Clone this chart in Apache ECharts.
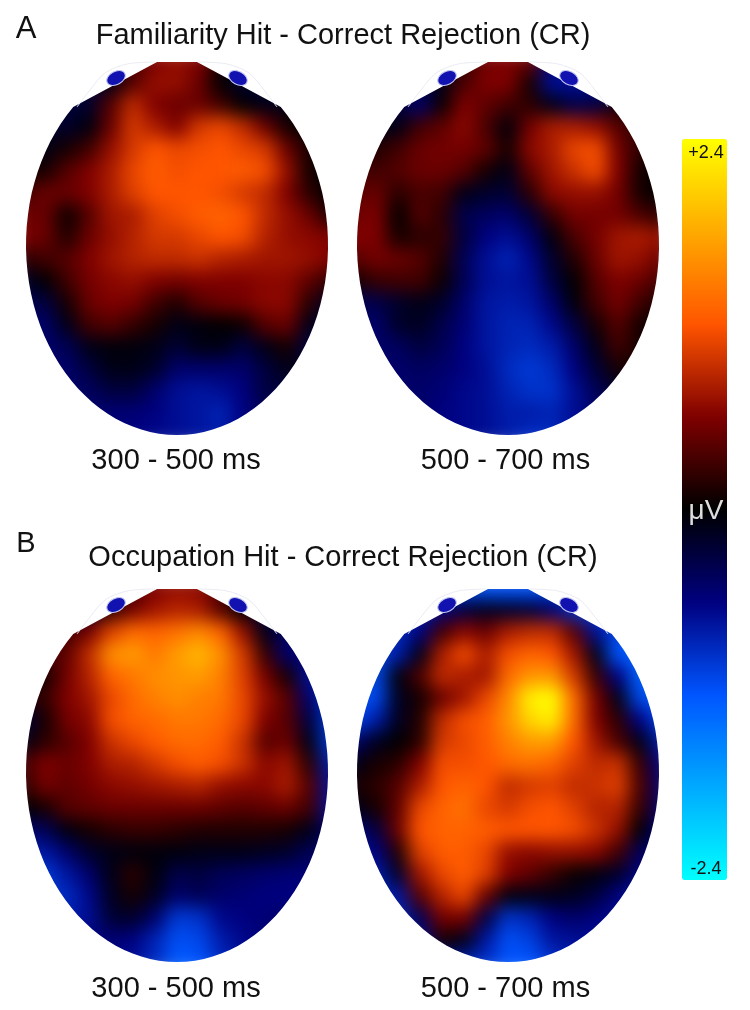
<!DOCTYPE html>
<html><head><meta charset="utf-8">
<style>html,body{margin:0;padding:0;background:#fff}#c{width:750px;height:1010px}</style>
<script src="https://cdn.jsdelivr.net/npm/echarts@6/dist/echarts.min.js"></script>
</head><body><div id="c"></div>
<script>
// Scalp potential in microvolts (rows run front to back).
const familiarity300 = [
[-.3,-.3,-.3,-.3,0,.3,.6,.7,.6,.1,-.2,-.3,-.3,-.3,-.3],
[-.3,-.3,-.3,-.3,-.1,.4,.7,.7,.5,0,-.2,-.3,-.3,-.3,-.3],
[-.3,-.3,-.3,-.2,.4,.9,.6,.5,.5,.3,0,-.1,-.1,-.1,-.1],
[-.2,-.2,-.2,-.05,.5,1.0,.8,.6,1.0,1.1,.9,.5,.1,0,0],
[-.1,-.1,.1,.3,.7,1.0,1.2,1.1,1.15,1.2,1.1,1.0,.5,.1,.1],
[.1,.1,.4,.6,.8,1.1,1.25,1.15,1.2,1.2,1.25,1.15,.7,.1,0],
[.3,.5,.5,.6,.8,1.05,1.2,1.2,1.2,1.15,1.0,.9,.6,.2,0],
[.5,.5,.05,.4,.75,.8,1.05,1.15,1.25,1.3,1.2,.9,.7,.5,.1],
[.6,.5,.15,.5,.7,.85,1.0,1.0,1.1,1.2,1.15,.85,.7,.65,.6],
[.2,.3,.4,.6,.75,.85,.9,.9,.95,.85,.8,.75,.75,.7,.6],
[-.2,0,.3,.55,.65,.7,.6,.55,.6,.6,.6,.65,.65,.45,.2],
[-.4,-.3,.1,.5,.6,.55,.3,.15,.4,.5,.55,.65,.65,.2,-.2],
[-.5,-.5,-.1,.3,.4,.25,.1,-.1,-.05,0,.05,.4,.5,-.1,-.3],
[-.5,-.5,-.4,-.1,-.05,-.05,-.1,-.25,-.1,-.1,-.3,-.1,.1,-.3,-.3],
[-.5,-.5,-.5,-.3,-.1,-.1,-.2,-.5,-.5,-.5,-.5,-.3,-.1,-.2,-.2],
[-.5,-.5,-.5,-.45,-.3,-.3,-.5,-.7,-.75,-.7,-.6,-.3,-.3,-.3,-.3],
[-.5,-.5,-.5,-.5,-.55,-.55,-.6,-.7,-.75,-.85,-.6,-.4,-.4,-.4,-.4],
[-.5,-.5,-.5,-.5,-.55,-.6,-.65,-.7,-.75,-.8,-.6,-.5,-.5,-.5,-.5]];
const familiarity500 = [
[-.3,-.3,-.3,-.3,-.2,.2,.55,.6,.5,-.6,-.7,-.7,-.7,-.7,-.7],
[-.3,-.3,-.3,-.4,-.1,.35,.6,.6,.1,-.7,-.7,-.7,-.7,-.7,-.7],
[-.3,-.3,-.3,-.5,.05,.6,.45,.3,.2,-.1,-.35,-.3,.1,.1,.1],
[-.1,-.1,-.1,.3,.45,.65,.35,-.05,.55,.8,.8,.7,.4,.2,.1],
[.1,.15,.3,.5,.55,.55,.45,.1,.65,.8,1.1,1.15,.55,.2,.1],
[.3,.3,.4,.5,.5,.4,.1,-.1,.45,.75,.95,1.15,.6,.1,0],
[.4,.5,.2,.35,.3,-.1,-.2,-.25,.2,.65,.7,.7,.55,.1,0],
[.5,.6,0,.4,.2,-.35,-.45,-.5,-.25,.25,.55,.55,.55,.35,.2],
[.6,.6,.1,.2,.25,-.3,-.6,-.7,-.5,-.05,.35,.55,.75,.8,.7],
[.4,.55,.5,.4,.15,-.4,-.7,-.85,-.65,-.2,.15,.5,.75,.7,.5],
[.1,.25,.3,.3,.05,-.4,-.7,-.75,-.7,-.3,0,.4,.6,.5,.3],
[-.4,-.35,-.2,-.1,-.2,-.5,-.75,-.8,-.75,-.5,-.05,.3,.55,.3,.1],
[-.5,-.5,-.2,-.15,-.35,-.55,-.75,-.85,-.85,-.65,-.3,.1,.4,.1,0],
[-.5,-.5,-.45,-.3,-.4,-.6,-.75,-.85,-.9,-.8,-.5,-.1,.3,.1,.1],
[-.5,-.5,-.5,-.45,-.5,-.6,-.7,-.9,-1,-.9,-.6,-.25,.1,.1,.1],
[-.5,-.5,-.5,-.5,-.55,-.65,-.7,-.85,-.95,-.95,-.7,-.4,-.2,-.2,-.2],
[-.5,-.5,-.5,-.5,-.6,-.65,-.7,-.8,-.8,-.85,-.7,-.5,-.4,-.4,-.4],
[-.5,-.5,-.5,-.5,-.6,-.65,-.7,-.8,-.9,-.9,-.7,-.5,-.45,-.45,-.45]];
const occupation300 = [
[-.3,-.3,-.3,-.3,0,.3,.6,.7,.65,.35,-.1,-.3,-.3,-.3,-.3],
[-.3,-.3,-.3,-.2,.2,.55,.75,.85,.8,.4,0,-.3,-.3,-.3,-.3],
[.2,.2,.3,.55,1.05,1.35,1.3,1.4,1.55,1.3,.7,-.1,-.5,-.5,-.5],
[.3,.3,.45,.9,1.6,1.7,1.45,1.7,1.9,1.6,1.0,.25,-.5,-.6,-.6],
[.1,.1,.55,.85,1.3,1.45,1.6,1.65,1.7,1.5,1.05,.55,.1,-.7,-.9],
[.1,.25,.6,.75,1.1,1.35,1.5,1.6,1.5,1.45,1.1,.7,.4,-.5,-1],
[-.3,.1,.55,.65,1.15,1.3,1.35,1.45,1.45,1.35,1.1,.6,.4,-.3,-1],
[-.1,.2,.4,.6,.95,1.1,1.25,1.35,1.35,1.25,.95,.4,.5,-.1,-1],
[.3,.6,.5,.6,.8,.85,1.0,1.15,1.25,1.15,.95,.65,.75,.2,-.8],
[.2,.55,.45,.55,.65,.7,.75,.8,.85,.7,.65,.65,.8,.4,-.7],
[0,.1,.4,.45,.5,.5,.5,.5,.5,.45,.4,.45,.5,.3,-.7],
[-.5,-.4,-.05,.1,.2,.25,.25,.2,.15,.15,.15,.15,.1,-.1,-.5],
[-.8,-.75,-.5,-.2,-.1,-.05,-.05,-.05,-.1,-.1,-.1,-.15,-.2,-.4,-.5],
[-1,-1,-.75,-.5,-.1,.2,-.05,-.35,-.3,-.4,-.45,-.5,-.55,-.55,-.55],
[-1,-1,-.9,-.65,-.15,.1,-.15,-.5,-.4,-.5,-.55,-.6,-.6,-.6,-.6],
[-.8,-.8,-.8,-.7,-.25,-.2,-.5,-1.0,-.95,-.65,-.6,-.55,-.5,-.5,-.5],
[-.6,-.6,-.6,-.6,-.55,-.6,-.85,-1.15,-1.1,-.8,-.65,-.55,-.5,-.5,-.5],
[-.6,-.6,-.6,-.6,-.65,-.7,-.9,-1.25,-1.2,-.9,-.7,-.6,-.6,-.6,-.6]];
const occupation500 = [
[-1,-1,-1,-1,-1,-1.1,-1.2,-1.2,-1.2,-1.1,-1,-1,-1,-1,-1],
[-1,-1,-1,-.9,-.6,-.3,-.15,-.2,-.25,-.5,-.9,-1.1,-1.1,-1.1,-1.1],
[-1,-1,-.9,-.6,.3,.65,.5,.8,.9,.9,.4,-.7,-1.1,-1.2,-1.2],
[-1.1,-1.1,-.8,-.1,.8,1.15,.8,1.15,1.3,1.2,.75,-.1,-1.2,-1.3,-1.3],
[-1.2,-1.1,-.05,.35,.9,.8,.75,1.35,1.65,1.65,1.0,.25,-.6,-1.3,-1.3],
[-1.2,-1.1,-.15,.1,.5,.75,1.1,1.55,2.3,2.5,1.35,.55,-.1,-1.1,-1.3],
[-1.1,-.8,-.15,.15,.9,1.15,1.25,1.65,2.1,2.3,1.35,.6,.2,-.6,-1.1],
[-.5,-.15,0,.2,1.0,1.1,1.25,1.5,1.7,1.7,1.2,.75,.35,-.1,-.8],
[-.1,.1,.2,.6,1.15,1.15,1.2,1.35,1.4,1.3,1.05,.9,.95,.25,-.6],
[.1,.2,.4,.8,1.2,1.3,1.2,.9,1.0,1.05,.9,.95,1.05,.35,-.5],
[-.1,.1,.45,1.1,1.3,1.4,1.1,1.0,1.15,1.2,1.05,.85,.85,.25,-.5],
[-.6,-.3,.5,1.2,1.3,1.3,1.25,1.2,1.2,1.2,1.15,.95,.7,0,-.6],
[-.8,-.6,.15,1.05,1.25,1.25,1.1,.7,.65,.7,.7,.65,.3,-.4,-.6],
[-.8,-.8,-.2,.75,1.1,1.25,1.05,.6,.45,.25,.05,-.05,-.2,-.6,-.7],
[-.9,-.9,-.75,.4,.85,1.1,.5,-.05,-.1,-.1,-.15,-.3,-.6,-.8,-.8],
[-.9,-.9,-.9,-.4,.55,.55,-.3,-.95,-.85,-.6,-.5,-.6,-.7,-.7,-.7],
[-.9,-.9,-.9,-.7,.1,-.1,-.75,-1.15,-1.05,-.75,-.7,-.7,-.7,-.7,-.7],
[-.9,-.9,-.9,-.8,-.7,-.8,-.95,-1.2,-1.2,-.95,-.8,-.8,-.8,-.8,-.8]];
const scaleColors = ['#00ffff','#00aaff','#0055ff','#00007f','#000000','#7f0000','#ff5500','#ffaa00','#ffff00'];
const scaleMin = -2.4, scaleMax = 2.4;
const panelTitles = ['Familiarity Hit - Correct Rejection (CR)','Occupation Hit - Correct Rejection (CR)'];
const windowLabels = ['300 - 500 ms','500 - 700 ms'];

const CELL = 22, COLS = 15, ROWS = 18;
const heads = [
  {v:familiarity300, cx:177, cy:245},
  {v:familiarity500, cx:508, cy:245},
  {v:occupation300,  cx:177, cy:772},
  {v:occupation500,  cx:508, cy:772}
];
const RX = 151, RY = 190;
function outline(h){
  const pts=[], cut=-138, a0=Math.asin(cut/RY);
  for(let i=0;i<=80;i++){ const t=a0+(Math.PI-2*a0)*i/80; pts.push([h.cx+RX*Math.cos(t),h.cy+RY*Math.sin(t)]); }
  pts.push([h.cx-20,h.cy-183],[h.cx+20,h.cy-183]);
  return pts;
}
const grid=[],xAxis=[],yAxis=[],series=[],graphic=[];
const cats=n=>Array.from({length:n},(_,i)=>i);
heads.forEach((h,i)=>{
  grid.push({left:h.cx-CELL*COLS/2,top:h.cy-195,width:CELL*COLS,height:CELL*ROWS});
  xAxis.push({type:'category',gridIndex:i,data:cats(COLS),show:false});
  yAxis.push({type:'category',gridIndex:i,data:cats(ROWS),show:false,inverse:true});
  const data=[]; h.v.forEach((row,r)=>row.forEach((val,c)=>data.push([c,r,val])));
  series.push({type:'heatmap',xAxisIndex:i,yAxisIndex:i,data,zlevel:0,silent:true,progressive:0,animation:false,itemStyle:{borderWidth:0}});
  // skull outline and ears
  [-1,1].forEach(s=>{
    graphic.push({type:'polyline',zlevel:1,silent:true,
      shape:{smooth:.3,points:[[s*100,-138],[s*87,-155],[s*72,-172],[s*50,-181],[s*22,-183]].map(p=>[h.cx+p[0],h.cy+p[1]])},
      style:{stroke:'#e9ebf3',lineWidth:1,fill:null}});
    graphic.push({type:'ellipse',zlevel:1,silent:true,x:h.cx+s*61,y:h.cy-167,rotation:s*-0.5,
      shape:{cx:0,cy:0,rx:10,ry:6.5},style:{fill:'#1212b0',stroke:'#c5c9f2',lineWidth:1}});
  });
});
const txt=(t,x,y,size,color,align)=>graphic.push({type:'text',zlevel:2,silent:true,x,y,
  style:{text:t,fill:color||'#111',font:size+'px "Liberation Sans", Arial, sans-serif',textAlign:align||'center',textVerticalAlign:'middle'}});
txt('A',26,29,31); txt('B',26,544,29);
txt(panelTitles[0],343,36,29); txt(panelTitles[1],343,558,29);
windowLabels.forEach((l,i)=>{ const x=[176,505.5][i]; txt(l,x,461,29); txt(l,x,989,29); });
txt('+2.4',706,153,18); txt('-2.4',706,869,18); txt('μV',706,511,28,'#dddddd');

const chart=echarts.init(document.getElementById('c'),null,{renderer:'canvas'});
chart.setOption({
  animation:false, tooltip:{show:false},
  grid,xAxis,yAxis,series,graphic,
  visualMap:{type:'continuous',min:scaleMin,max:scaleMax,show:true,calculable:false,seriesIndex:[0,1,2,3],
    left:667,top:124,itemWidth:45,itemHeight:741,text:null,showLabel:false,zlevel:1,
    inRange:{color:scaleColors},textStyle:{color:'transparent'},realtime:false,hoverLink:false}
});
function finishLayer(){
  const cv=document.querySelector('canvas[data-zr-dom-id="zr_0"]');
  if(!cv) return;
  const d=heads.map(h=>{const p=outline(h);return 'M'+p.map(q=>q[0].toFixed(1)+' '+q[1].toFixed(1)).join('L')+'Z';}).join(' ');
  cv.style.filter='blur(9px)';
  cv.style.clipPath='path("'+d+'")';
}
finishLayer();
chart.on('finished',finishLayer);
</script></body></html>
